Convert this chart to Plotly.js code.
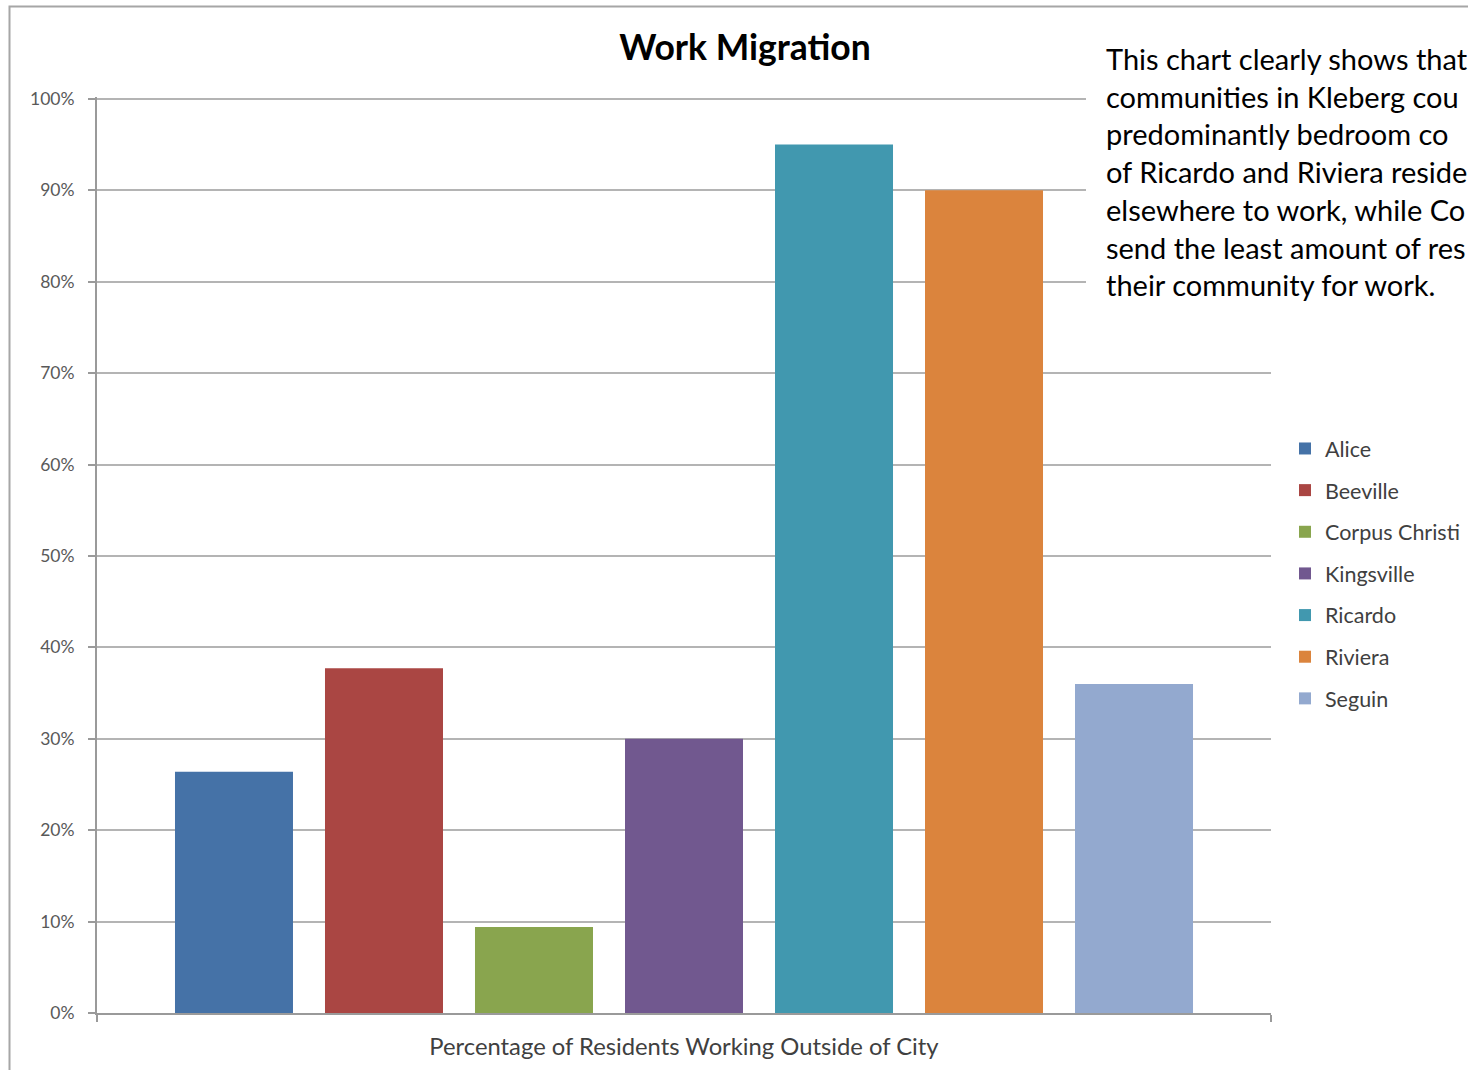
<!DOCTYPE html>
<html>
<head>
<meta charset="utf-8">
<script src="https://cdn.plot.ly/plotly-3.0.1.min.js"></script>
<style>
html,body{margin:0;padding:0;background:#fff;}
#chart{width:1468px;height:1070px;}
</style>
</head>
<body>
<div id="chart"></div>
<script>
// ---- data ----
const category = ["Percentage of Residents Working Outside of City"];
const cities = ["Alice", "Beeville", "Corpus Christi", "Kingsville", "Ricardo", "Riviera", "Seguin"];
const shares = [0.264, 0.377, 0.094, 0.300, 0.950, 0.900, 0.360];
const colors = ["#4572A7", "#AA4643", "#89A54E", "#71588F", "#4198AF", "#DB843D", "#93A9CF"];
const titleText = "Work Migration";
// note text box (visible part of the text, which runs off the right edge)
const noteLines = [
  "This chart clearly shows that",
  "communities in Kleberg cou",
  "predominantly bedroom co",
  "of Ricardo and Riviera reside",
  "elsewhere to work, while Co",
  "send the least amount of res",
  "their community for work."
];

// ---- geometry helpers (plot area pixels) ----
const W = 1468, H = 1070;
const YMAX = 1.002;
const L = 97, R = 1271, B = 1013;
const T = Math.round(B - (B - 99) * YMAX);   // so that 100% sits at y=99
const px = x => (x - L) / (R - L);
const py = y => (B - y) / (B - T);

const FONT = "Lato, 'Open Sans', sans-serif";

const traces = cities.map((c, i) => ({
  type: "bar",
  name: c,
  x: category,
  y: [shares[i]],
  legendgroup: c,
  marker: {color: colors[i], line: {width: 0}},
  hoverinfo: "name+y"
}));

const layout = {
  width: W, height: H,
  margin: {l: L, r: W - R, t: T, b: H - B, pad: 0},
  paper_bgcolor: "#ffffff",
  plot_bgcolor: "#ffffff",
  font: {family: FONT, color: "#404040"},
  title: {
    text: "<b>" + titleText + "</b>",
    font: {family: FONT, size: 35.5, color: "#000000"},
    x: 745 / W, xanchor: "center", xref: "container",
    y: 1 - 48 / H, yanchor: "middle", yref: "container"
  },
  barmode: "group",
  bargap: 0.1056,
  bargroupgap: 0.2133,
  xaxis: {
    type: "category",
    showline: true, linecolor: "#9a9a9a", linewidth: 2,
    ticks: "outside", tickson: "boundaries", ticklen: 7, tickcolor: "#9a9a9a", tickwidth: 2,
    ticklabelstandoff: 11,
    tickfont: {family: FONT, size: 23.8, color: "#404040"},
    showgrid: false, zeroline: false, fixedrange: true
  },
  yaxis: {
    range: [0, YMAX], dtick: 0.1, tick0: 0, tickformat: ".0%",
    showline: true, linecolor: "#9a9a9a", linewidth: 2,
    ticks: "outside", ticklen: 7, tickcolor: "#9a9a9a", tickwidth: 2,
    ticklabelstandoff: 10,
    showgrid: true, gridcolor: "#b4b4b4", gridwidth: 2,
    zeroline: false,
    tickfont: {family: FONT, size: 17.5, color: "#595959"},
    fixedrange: true
  },
  legend: {
    xref: "container", yref: "container",
    x: 1285 / W, xanchor: "left",
    y: 1 - 428 / H, yanchor: "top",
    font: {family: FONT, size: 21.5, color: "#404040"},
    traceorder: "grouped",
    tracegroupgap: 10.7,
    itemwidth: 30,
    bgcolor: "rgba(0,0,0,0)"
  },
  shapes: [
    // chart border (left and top edges visible, rest runs off the page)
    {type: "rect", xref: "paper", yref: "paper",
     x0: px(9.5), x1: px(1520), y0: py(1120), y1: py(6.5),
     line: {color: "#a6a6a6", width: 2}, fillcolor: "rgba(0,0,0,0)", layer: "above"},
    // text box background
    {type: "rect", xref: "paper", yref: "paper",
     x0: px(1086), x1: px(1530), y0: py(322), y1: py(30),
     line: {width: 0}, fillcolor: "#ffffff", layer: "above"}
  ],
  annotations: [
    {xref: "paper", yref: "paper", x: px(1104), y: py(39),
     xanchor: "left", yanchor: "top", align: "left",
     showarrow: false,
     text: noteLines.join("<br>"),
     font: {family: FONT, size: 29, color: "#000000"}}
  ],
  showlegend: true
};

Plotly.newPlot("chart", traces, layout, {displayModeBar: false, staticPlot: true});
</script>
</body>
</html>
